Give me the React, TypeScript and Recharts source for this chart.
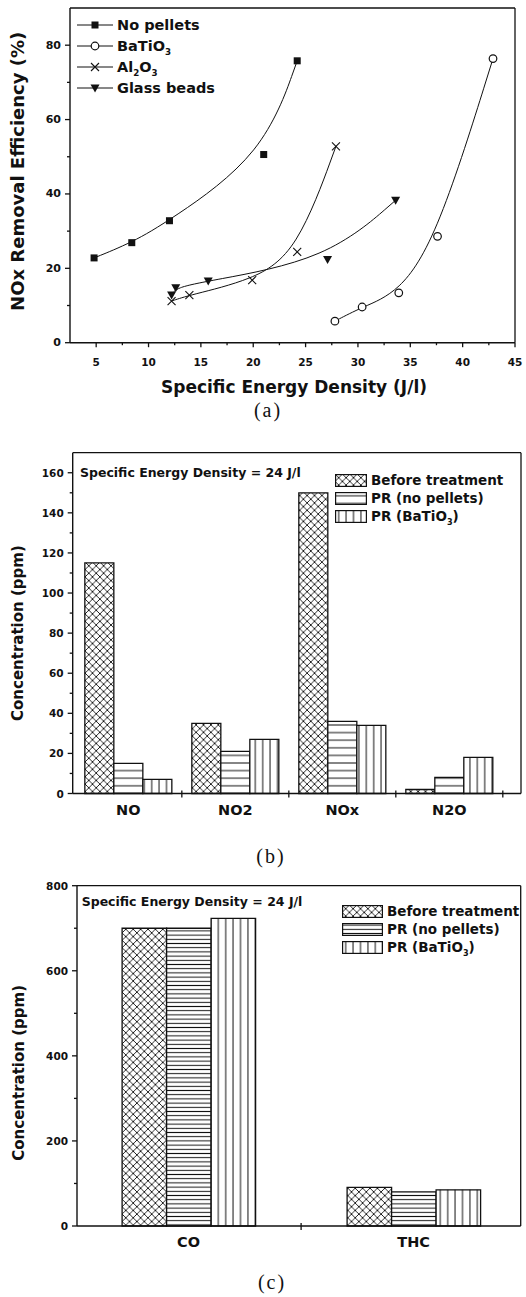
import React from "react";
import { ScatterChart, Scatter, BarChart, Bar, XAxis, YAxis, Legend, Label, ReferenceLine } from "recharts";

const SANS = '"DejaVu Sans", sans-serif';
const SERIF = '"Liberation Serif", serif';
const INK = "#111";
const AXIS = { stroke: INK, strokeWidth: 1.4 };

// (a) NOx removal efficiency (%) against specific energy density (J/l)
const NO_PELLETS_SED = [4.8, 8.4, 12.0, 21.0, 24.2];
const NO_PELLETS_EFF = [22.8, 26.9, 32.8, 50.6, 75.8];
const BATIO3_SED = [27.8, 30.4, 33.9, 37.6, 42.9];
const BATIO3_EFF = [5.8, 9.6, 13.4, 28.6, 76.4];
const AL2O3_SED = [12.2, 13.9, 19.9, 24.2, 27.9];
const AL2O3_EFF = [11.2, 12.8, 16.8, 24.4, 52.8];
const GLASS_SED = [12.2, 12.6, 15.7, 27.1, 33.6];
const GLASS_EFF = [12.8, 14.8, 16.6, 22.4, 38.3];
const SED_TICKS = [5, 7.5, 10, 12.5, 15, 17.5, 20, 22.5, 25, 27.5, 30, 32.5, 35, 37.5, 40, 42.5, 45];
const EFF_TICKS = [0, 10, 20, 30, 40, 50, 60, 70, 80];

// (b) NOx species before and after the plasma reactor at 24 J/l
const NOX_GASES = ["NO", "NO2", "NOx", "N2O"];
const NOX_BEFORE = [115, 35, 150, 2];
const NOX_PR_NONE = [15, 21, 36, 8];
const NOX_PR_BATIO3 = [7, 27, 34, 18];
const NOX_TICKS = [0, 10, 20, 30, 40, 50, 60, 70, 80, 90, 100, 110, 120, 130, 140, 150, 160];

// (c) CO and total hydrocarbons
const CO_GASES = ["CO", "THC"];
const CO_BEFORE = [700, 91];
const CO_PR_NONE = [700, 80];
const CO_PR_BATIO3 = [723, 85];
const CO_TICKS = [0, 100, 200, 300, 400, 500, 600, 700, 800];

const BAR_NAMES = ["Before treatment", "PR (no pellets)", "PR (BaTiO_3)"];

type Shape = "square" | "circle" | "cross" | "triangle";

const zip = (xs: number[], ys: number[]) => xs.map((x, i) => ({ x, y: ys[i] }));

const SERIES_A: { name: string; shape: Shape; points: { x: number; y: number }[] }[] = [
  { name: "No pellets", shape: "square", points: zip(NO_PELLETS_SED, NO_PELLETS_EFF) },
  { name: "BaTiO_3", shape: "circle", points: zip(BATIO3_SED, BATIO3_EFF) },
  { name: "Al_2O_3", shape: "cross", points: zip(AL2O3_SED, AL2O3_EFF) },
  { name: "Glass beads", shape: "triangle", points: zip(GLASS_SED, GLASS_EFF) },
];

const font = (size: number): React.CSSProperties => ({
  fontFamily: SANS,
  fontWeight: 700,
  fontSize: size,
  fill: INK,
});

// "BaTiO_3" -> BaTiO with a subscript 3
function chem(label: string) {
  return label.split(/_(\d)/).map((part, i) =>
    i % 2 ? (
      <sub key={i} style={{ fontSize: "0.6em", lineHeight: 0 }}>
        {part}
      </sub>
    ) : (
      <React.Fragment key={i}>{part}</React.Fragment>
    )
  );
}

function marker(shape: Shape, cx: number, cy: number) {
  switch (shape) {
    case "square":
      return <rect x={cx - 3.5} y={cy - 3.5} width={7} height={7} fill={INK} />;
    case "circle":
      return <circle cx={cx} cy={cy} r={3.8} fill="#fff" stroke={INK} strokeWidth={1.2} />;
    case "cross":
      return (
        <path
          d={`M${cx - 4},${cy - 4}L${cx + 4},${cy + 4}M${cx + 4},${cy - 4}L${cx - 4},${cy + 4}`}
          stroke={INK}
          strokeWidth={1.1}
        />
      );
    default:
      return <path d={`M${cx - 4.5},${cy - 3.5}L${cx + 4.5},${cy - 3.5}L${cx},${cy + 4.5}Z`} fill={INK} />;
  }
}

// left axis ticks point outwards, labelled only on the major ones
function yTick(major: number, size: number) {
  return (props: any) => {
    const { x, y, payload } = props;
    const v = payload.value as number;
    const isMajor = v % major === 0;
    return (
      <g>
        <line x1={x} x2={x - (isMajor ? 5 : 3)} y1={y} y2={y} stroke={INK} strokeWidth={1.3} />
        {isMajor && (
          <text x={x - 9} y={y} textAnchor="end" dominantBaseline="central" style={font(size)}>
            {v}
          </text>
        )}
      </g>
    );
  };
}

function sedTick(props: any) {
  const { x, y, payload } = props;
  const v = payload.value as number;
  const isMajor = v % 5 === 0;
  return (
    <g>
      <line x1={x} x2={x} y1={y} y2={y + (isMajor ? 4.5 : 2.5)} stroke={INK} strokeWidth={1.3} />
      {isMajor && (
        <text x={x} y={y + 19} textAnchor="middle" dominantBaseline="central" style={font(10.5)}>
          {v}
        </text>
      )}
    </g>
  );
}

// gas names sit at integer positions, separators at the half positions
function gasTick(names: string[], size: number, dy: number) {
  return (props: any) => {
    const { x, y, payload } = props;
    const v = payload.value as number;
    if (Number.isInteger(v)) {
      return (
        <text x={x} y={y + dy} textAnchor="middle" dominantBaseline="central" style={font(size)}>
          {names[v - 1]}
        </text>
      );
    }
    return <line x1={x} x2={x} y1={y - 3} y2={y + 4} stroke={INK} strokeWidth={1.3} />;
  };
}

function yTitle(text: string, fromAxis: number, dy: number, size: number) {
  return (props: any) => {
    const vb = props.viewBox ?? { x: 0, y: 0, width: 0, height: 0 };
    const cx = vb.x + vb.width - fromAxis;
    const cy = vb.y + vb.height / 2 + dy;
    return (
      <text
        x={cx}
        y={cy}
        transform={`rotate(-90 ${cx} ${cy})`}
        textAnchor="middle"
        dominantBaseline="central"
        style={font(size)}
      >
        {text}
      </text>
    );
  };
}

function PatternDefs() {
  return (
    <svg width={0} height={0} style={{ position: "absolute" }}>
      <defs>
        <pattern id="pat-cross" width={7.4} height={7.4} patternUnits="userSpaceOnUse">
          <rect width={7.4} height={7.4} fill="#fff" />
          <path d="M-1,-1L8.4,8.4M8.4,-1L-1,8.4" stroke={INK} strokeWidth={0.9} />
        </pattern>
        <pattern id="pat-hline" width={8} height={7.6} patternUnits="userSpaceOnUse">
          <rect width={8} height={7.6} fill="#fff" />
          <line x1={0} x2={8} y1={3.8} y2={3.8} stroke={INK} strokeWidth={1} />
        </pattern>
        <pattern id="pat-hline-fine" width={8} height={4.2} patternUnits="userSpaceOnUse">
          <rect width={8} height={4.2} fill="#fff" />
          <line x1={0} x2={8} y1={2.1} y2={2.1} stroke={INK} strokeWidth={1} />
        </pattern>
        <pattern id="pat-vline" width={7.4} height={8} patternUnits="userSpaceOnUse">
          <rect width={7.4} height={8} fill="#fff" />
          <line x1={3.7} x2={3.7} y1={0} y2={8} stroke={INK} strokeWidth={1} />
        </pattern>
      </defs>
    </svg>
  );
}

function Caption({ text, cx, cy }: { text: string; cx: number; cy: number }) {
  return (
    <div
      style={{
        position: "absolute",
        left: cx - 30,
        top: cy - 11,
        width: 60,
        textAlign: "center",
        fontFamily: SERIF,
        fontSize: 20,
        lineHeight: "22px",
        letterSpacing: 2,
        color: INK,
      }}
    >
      {text}
    </div>
  );
}

function efficiencyLegend() {
  return (
    <div style={{ fontFamily: SANS, fontWeight: 700, fontSize: 14.5, color: INK }}>
      {SERIES_A.map((s) => (
        <div key={s.name} style={{ display: "flex", alignItems: "center", height: 21 }}>
          <svg width={40} height={12}>
            <line x1={0} x2={36} y1={6} y2={6} stroke={INK} strokeWidth={1} />
            {marker(s.shape, 18, 6)}
          </svg>
          <span>{chem(s.name)}</span>
        </div>
      ))}
    </div>
  );
}

function EfficiencyPanel() {
  return (
    <div style={{ position: "absolute", left: 0, top: 0 }}>
      <ScatterChart width={526} height={430} margin={{ top: 8, right: 11, bottom: 27.3, left: 10 }}>
        <XAxis
          dataKey="x"
          type="number"
          domain={[2.5, 45]}
          ticks={SED_TICKS}
          interval={0}
          tickSize={0}
          tickMargin={0}
          tickLine={false}
          axisLine={AXIS}
          height={60}
          tick={sedTick}
        >
          <Label
            content={(p: any) => {
              const vb = p.viewBox ?? { x: 0, y: 0, width: 0 };
              return (
                <text x={vb.x + vb.width / 2 + 1.5} y={vb.y + 50} textAnchor="middle" style={font(17)}>
                  Specific Energy Density (J/l)
                </text>
              );
            }}
          />
        </XAxis>
        <YAxis
          dataKey="y"
          type="number"
          domain={[0, 90]}
          ticks={EFF_TICKS}
          interval={0}
          tickSize={0}
          tickMargin={0}
          tickLine={false}
          axisLine={AXIS}
          width={60}
          tick={yTick(20, 11)}
        >
          <Label content={yTitle("NOx Removal Efficiency (%)", 52, -4, 18)} />
        </YAxis>
        {/* closing frame on the top and right */}
        <ReferenceLine y={90} stroke={INK} strokeWidth={1.3} />
        <ReferenceLine x={45} stroke={INK} strokeWidth={1.3} />
        {SERIES_A.map((s) => (
          <Scatter
            key={s.name}
            name={s.name}
            data={s.points}
            line={{ stroke: INK, strokeWidth: 1 }}
            lineJointType="basis"
            shape={(p: any) => marker(s.shape, p.cx, p.cy)}
            isAnimationActive={false}
          />
        ))}
        <Legend
          layout="vertical"
          align="center"
          verticalAlign="middle"
          wrapperStyle={{ top: 14.5, left: 77, width: 200 }}
          content={efficiencyLegend}
        />
      </ScatterChart>
    </div>
  );
}

type PanelProps = {
  top: number;
  gases: string[];
  before: number[];
  prNone: number[];
  prBatio3: number[];
  yTicks: number[];
  yMax: number;
  yMajor: number;
  xDomain: [number, number];
  xTicks: number[];
  barSize: number;
  fills: string[];
  margin: { top: number; right: number; bottom: number; left: number };
  titleFromAxis: number;
  titleDy: number;
  labelDy: number;
  legendAt: { top: number; left: number };
  swatchW: number;
  noteAt: { top: number; left: number };
};

function ConcentrationPanel(p: PanelProps) {
  const rows = p.gases.map((gas, i) => ({
    pos: i + 1,
    gas,
    before: p.before[i],
    prNone: p.prNone[i],
    prBatio3: p.prBatio3[i],
  }));
  const keys = ["before", "prNone", "prBatio3"];

  const legend = () => (
    <div style={{ fontFamily: SANS, fontWeight: 700, fontSize: 13.5, color: INK }}>
      {BAR_NAMES.map((n, i) => (
        <div key={n} style={{ display: "flex", alignItems: "center", height: 18 }}>
          <svg width={p.swatchW} height={13} style={{ marginRight: 4 }}>
            <rect x={0.6} y={0.6} width={p.swatchW - 1.2} height={11.8} fill={p.fills[i]} stroke={INK} strokeWidth={1.2} />
          </svg>
          <span>{chem(n)}</span>
        </div>
      ))}
    </div>
  );

  return (
    <div style={{ position: "absolute", left: 0, top: p.top }}>
      <BarChart width={526} height={400} data={rows} margin={p.margin} barGap={0}>
        <XAxis
          dataKey="pos"
          type="number"
          domain={p.xDomain}
          ticks={p.xTicks}
          interval={0}
          tickSize={0}
          tickMargin={0}
          tickLine={false}
          axisLine={AXIS}
          height={40}
          tick={gasTick(p.gases, 14.5, p.labelDy)}
        />
        <YAxis
          type="number"
          domain={[0, p.yMax]}
          ticks={p.yTicks}
          interval={0}
          tickSize={0}
          tickMargin={0}
          tickLine={false}
          axisLine={AXIS}
          width={60}
          tick={yTick(p.yMajor, 10.5)}
        >
          <Label content={yTitle("Concentration (ppm)", p.titleFromAxis, p.titleDy, 15)} />
        </YAxis>
        {/* closing frame on the top and right */}
        <ReferenceLine y={p.yMax} stroke={INK} strokeWidth={1.3} />
        <ReferenceLine x={p.xDomain[1]} stroke={INK} strokeWidth={1.3} />
        {keys.map((k, i) => (
          <Bar
            key={k}
            dataKey={k}
            name={BAR_NAMES[i]}
            fill={p.fills[i]}
            stroke={INK}
            strokeWidth={1.3}
            barSize={p.barSize}
            isAnimationActive={false}
          />
        ))}
        <Legend
          layout="vertical"
          align="center"
          verticalAlign="middle"
          wrapperStyle={{ top: p.legendAt.top, left: p.legendAt.left, width: 200 }}
          content={legend}
        />
      </BarChart>
      <div
        style={{
          position: "absolute",
          top: p.noteAt.top,
          left: p.noteAt.left,
          fontFamily: SANS,
          fontWeight: 700,
          fontSize: 12.5,
          lineHeight: "14px",
          color: INK,
          whiteSpace: "nowrap",
        }}
      >
        Specific Energy Density = 24 J/l
      </div>
    </div>
  );
}

export default function App() {
  return (
    <div style={{ position: "absolute", left: 0, top: 0, width: 526, height: 1297, background: "#fff" }}>
      <PatternDefs />
      <EfficiencyPanel />
      <Caption text="(a)" cx={268} cy={410} />
      <ConcentrationPanel
        top={440}
        gases={NOX_GASES}
        before={NOX_BEFORE}
        prNone={NOX_PR_NONE}
        prBatio3={NOX_PR_BATIO3}
        yTicks={NOX_TICKS}
        yMax={170}
        yMajor={20}
        xDomain={[0.48, 4.67]}
        xTicks={[1, 1.5, 2, 2.5, 3, 3.5, 4, 4.5]}
        barSize={29}
        fills={["url(#pat-cross)", "url(#pat-hline)", "url(#pat-vline)"]}
        margin={{ top: 12.7, right: 5, bottom: 6.5, left: 12.7 }}
        titleFromAxis={54.5}
        titleDy={10}
        labelDy={16.5}
        legendAt={{ top: 31, left: 335 }}
        swatchW={32}
        noteAt={{ top: 25.7, left: 80 }}
      />
      <Caption text="(b)" cx={271} cy={856} />
      <ConcentrationPanel
        top={870}
        gases={CO_GASES}
        before={CO_BEFORE}
        prNone={CO_PR_NONE}
        prBatio3={CO_PR_BATIO3}
        yTicks={CO_TICKS}
        yMax={800}
        yMajor={200}
        xDomain={[0.504, 2.476]}
        xTicks={[1, 1.5, 2]}
        barSize={44.5}
        fills={["url(#pat-cross)", "url(#pat-hline-fine)", "url(#pat-vline)"]}
        margin={{ top: 15.7, right: 5.3, bottom: 4, left: 17 }}
        titleFromAxis={57.5}
        titleDy={17}
        labelDy={16.3}
        legendAt={{ top: 32, left: 342 }}
        swatchW={41}
        noteAt={{ top: 24.7, left: 81.7 }}
      />
      <Caption text="(c)" cx={272} cy={1282} />
    </div>
  );
}
